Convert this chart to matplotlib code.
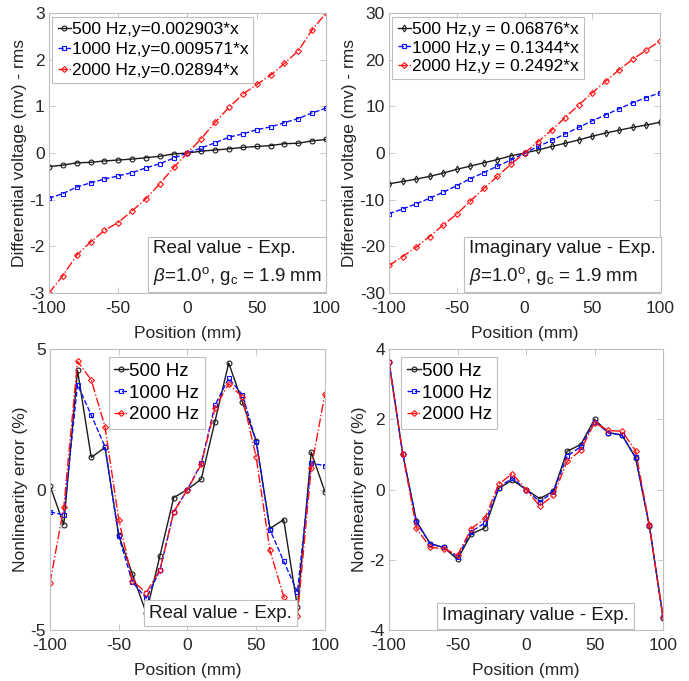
import matplotlib
matplotlib.use("Agg")
import matplotlib.pyplot as plt

plt.rcParams['font.family'] = ['Liberation Sans', 'DejaVu Sans']
plt.rcParams['mathtext.fontset'] = 'custom'
plt.rcParams['mathtext.rm'] = 'Liberation Sans'
plt.rcParams['mathtext.it'] = 'Liberation Sans:italic'
plt.rcParams['axes.unicode_minus'] = False

position = [-100, -90, -80, -70, -60, -50, -40, -30, -20, -10, 0,
            10, 20, 30, 40, 50, 60, 70, 80, 90, 100]

real_500 = [-0.29, -0.26, -0.21, -0.20, -0.17, -0.15, -0.13, -0.10, -0.07, -0.02, 0.0,
            0.04, 0.065, 0.09, 0.12, 0.14, 0.16, 0.20, 0.21, 0.26, 0.29]
real_1000 = [-0.97, -0.87, -0.73, -0.64, -0.56, -0.49, -0.42, -0.32, -0.23, -0.11, 0.0,
             0.11, 0.22, 0.34, 0.41, 0.50, 0.56, 0.65, 0.74, 0.86, 0.96]
real_2000 = [-3.0, -2.63, -2.19, -1.91, -1.66, -1.49, -1.24, -0.98, -0.66, -0.31, 0.0,
             0.31, 0.66, 0.98, 1.26, 1.47, 1.67, 1.92, 2.19, 2.64, 3.0]

imag_500 = [-6.6, -6.1, -5.6, -5.0, -4.3, -3.5, -2.8, -2.1, -1.4, -0.6, 0.0,
            0.65, 1.4, 2.1, 2.8, 3.6, 4.3, 4.9, 5.5, 6.0, 6.6]
imag_1000 = [-13.0, -12.0, -10.9, -9.7, -8.4, -7.0, -5.5, -4.2, -2.8, -1.5, 0.0,
             1.4, 2.7, 4.1, 5.5, 6.9, 8.2, 9.5, 10.8, 11.9, 12.9]
imag_2000 = [-24.1, -22.2, -20.2, -17.9, -15.4, -13.1, -10.3, -7.6, -5.0, -2.4, 0.0,
             2.4, 4.9, 7.6, 10.3, 12.9, 15.4, 17.9, 20.1, 22.1, 24.0]

nl_real_500 = [0.13, -1.25, 4.24, 1.14, 1.5, -1.63, -3.02, -4.4, -2.35, -0.29, 0.0,
               0.37, 2.42, 4.5, 3.1, 1.73, -1.39, -1.07, -4.19, 1.33, -0.08]
nl_real_1000 = [-0.8, -0.9, 3.73, 2.65, 1.52, -1.67, -3.3, -3.87, -2.88, -0.8, 0.0,
                0.93, 3.0, 3.96, 3.37, 1.7, -1.43, -2.55, -3.65, 0.93, 0.85]
nl_real_2000 = [-3.32, -0.64, 4.56, 3.9, 2.24, -1.07, -3.24, -3.68, -2.85, -0.8, 0.0,
                0.89, 2.9, 3.76, 3.29, 1.14, -2.17, -3.81, -4.49, 0.75, 3.4]

nl_imag_500 = [3.63, 1.02, -0.9, -1.54, -1.65, -1.99, -1.27, -1.09, 0.03, 0.27, 0.0,
               -0.26, -0.05, 1.09, 1.28, 2.0, 1.62, 1.55, 0.9, -1.03, -3.65]
nl_imag_1000 = [3.63, 1.02, -0.93, -1.55, -1.65, -1.92, -1.2, -0.95, 0.05, 0.33, 0.0,
                -0.35, -0.07, 0.95, 1.22, 1.93, 1.62, 1.55, 0.92, -1.02, -3.63]
nl_imag_2000 = [3.63, 1.02, -1.1, -1.65, -1.68, -1.87, -1.12, -0.82, 0.15, 0.45, 0.0,
                -0.47, -0.17, 0.8, 1.12, 1.9, 1.68, 1.66, 1.1, -1.02, -3.63]

labels_real = ['500 Hz,y=0.002903*x', '1000 Hz,y=0.009571*x', '2000 Hz,y=0.02894*x']
labels_imag = ['500 Hz,y = 0.06876*x', '1000 Hz,y = 0.1344*x', '2000 Hz,y = 0.2492*x']
labels_nl = ['500 Hz', '1000 Hz', '2000 Hz']

FS = 12.5
TXT = '#262626'
SPINE = '#bfbfbf'

fig = plt.figure(figsize=(6.89, 6.81), dpi=100)
ax_tl = fig.add_axes([0.0711, 0.5698, 0.402, 0.411])
ax_tr = fig.add_axes([0.5646, 0.5698, 0.3933, 0.411])
ax_bl = fig.add_axes([0.0726, 0.0749, 0.399, 0.4126])
ax_br = fig.add_axes([0.5646, 0.0749, 0.3977, 0.4126])


def style(ax, ylim, yticks):
    ax.set_xlim(-100, 100)
    ax.set_ylim(*ylim)
    ax.set_xticks([-100, -50, 0, 50, 100])
    ax.set_yticks(yticks)
    ax.tick_params(direction='in', top=True, right=True, labelsize=FS,
                   colors=TXT, length=4, width=0.6)
    ax.tick_params(axis='x', pad=6)
    ax.tick_params(axis='y', pad=3)
    ax.tick_params(axis='both', color=SPINE)
    for s in ax.spines.values():
        s.set_color(SPINE)
        s.set_linewidth(0.8)
    ax.set_xlabel('Position (mm)', fontsize=FS, color=TXT, labelpad=7)


def plot3(ax, ys, labels, m500):
    ax.plot(position, ys[0], color='#1a1a1a', ls='-', lw=1.0, marker=m500, ms=3.5,
            mfc='none', mew=0.8, label=labels[0])
    ax.plot(position, ys[1], color='#1010ff', ls='--', lw=1.0, marker='s', ms=3,
            mfc='none', mew=0.8, label=labels[1])
    ax.plot(position, ys[2], color='#ff1010', ls='-.', lw=1.0, marker='D', ms=3,
            mfc='none', mew=0.8, label=labels[2])


def legend(ax, anchor, fs, spacing):
    leg = ax.legend(loc='upper left', bbox_to_anchor=anchor, fontsize=fs,
                    handlelength=0.75, handletextpad=0.05,
                    borderpad=0.3, labelspacing=spacing, borderaxespad=0.2,
                    fancybox=False, framealpha=1)
    leg.get_frame().set_edgecolor(SPINE)
    leg.get_frame().set_linewidth(0.8)
    return leg


def box(ax, txt, x, y, ha='right', va='bottom', fs=13.5):
    ax.text(x, y, txt, transform=ax.transAxes, ha=ha, va=va, fontsize=fs,
            color='#1a1a1a', linespacing=1.55, multialignment='left',
            bbox=dict(boxstyle='square,pad=0.25', fc='white', ec=SPINE, lw=0.8))


plot3(ax_tl, [real_500, real_1000, real_2000], labels_real, 'o')
style(ax_tl, (-3, 3), [-3, -2, -1, 0, 1, 2, 3])
ax_tl.set_ylabel('Differential voltage (mv) - rms', fontsize=FS, color=TXT, labelpad=2)
legend(ax_tl, (0.0, 1.0), FS, 0.3)
box(ax_tl, 'Real value - Exp.\n$\\beta$=1.0$^{\\rm o}$, g$_{\\rm c}$ = 1.9 mm', 0.985, 0.02)

plot3(ax_tr, [imag_500, imag_1000, imag_2000], labels_imag, 'd')
style(ax_tr, (-30, 30), [-30, -20, -10, 0, 10, 20, 30])
ax_tr.set_ylabel('Differential voltage (mv) - rms', fontsize=FS, color=TXT, labelpad=2)
legend(ax_tr, (0.0, 1.0), FS, 0.2)
box(ax_tr, 'Imaginary value - Exp.\n$\\beta$=1.0$^{\\rm o}$, g$_{\\rm c}$ = 1.9 mm', 0.985, 0.02)

plot3(ax_bl, [nl_real_500, nl_real_1000, nl_real_2000], labels_nl, 'o')
style(ax_bl, (-5, 5), [-5, 0, 5])
ax_bl.set_ylabel('Nonlinearity error (%)', fontsize=FS, color=TXT, labelpad=2)
legend(ax_bl, (0.2, 0.985), 13.5, 0.25)
box(ax_bl, 'Real value - Exp.', 0.62, 0.03, ha='center')

plot3(ax_br, [nl_imag_500, nl_imag_1000, nl_imag_2000], labels_nl, 'o')
style(ax_br, (-4, 4), [-4, -2, 0, 2, 4])
ax_br.set_ylabel('Nonlinearity error (%)', fontsize=FS, color=TXT, labelpad=2)
legend(ax_br, (0.03, 0.985), 13.5, 0.25)
box(ax_br, 'Imaginary value - Exp.', 0.535, 0.02, ha='center')

fig.savefig('out.png', dpi=100, facecolor='white')
